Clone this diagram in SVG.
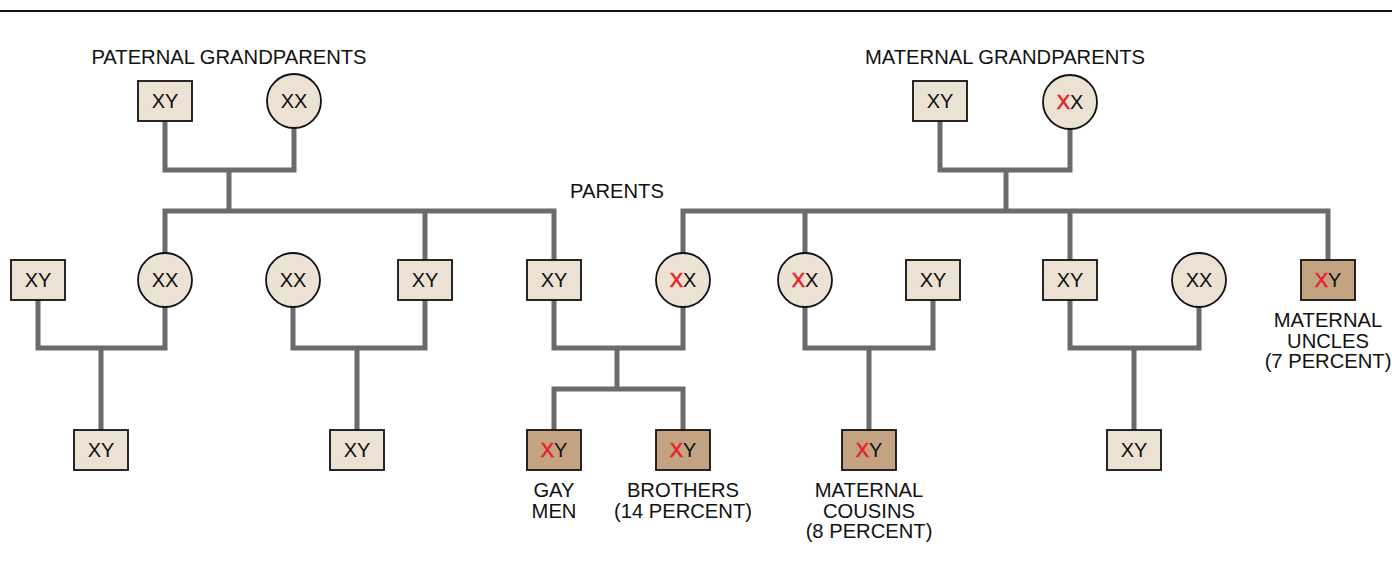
<svg xmlns="http://www.w3.org/2000/svg" width="1392" height="573" viewBox="0 0 1392 573">
<style>
.bg{fill:#ffffff}
.ln{fill:none;stroke:#6b6b6b;stroke-width:5;stroke-linejoin:miter;stroke-linecap:butt}
.nd{fill:#ebe2d3;stroke:#111;stroke-width:1.8}
.br{fill:#c4a383;stroke:#111;stroke-width:1.8}
.t{font-family:"Liberation Sans",Arial,sans-serif;font-size:20px;fill:#111;text-anchor:middle}
.lb{font-family:"Liberation Sans",Arial,sans-serif;font-size:20.2px;fill:#111;text-anchor:middle}
.r{fill:#e8232a;stroke:#e8232a;stroke-width:0.6}
</style>
<rect class="bg" x="0" y="0" width="1392" height="573"/>
<line x1="0" y1="11" x2="1392" y2="11" stroke="#111" stroke-width="2"/>
<g id="connectors">
<path class="ln" d="M165,121 V170 H294 V128 M229,170 V211"/>
<path class="ln" d="M165,253 V211 H554 V260 M425,211 V260"/>
<path class="ln" d="M940,121 V170 H1070 V129 M1006,170 V211"/>
<path class="ln" d="M683,253 V211 H1328 V260 M805,211 V253 M1070,211 V260"/>
<path class="ln" d="M38,300 V348 H165 V307 M101,348 V430"/>
<path class="ln" d="M293,307 V348 H425 V300 M357,348 V430"/>
<path class="ln" d="M554,300 V348 H683 V307 M617,348 V389 M554,430 V389 H683 V430"/>
<path class="ln" d="M805,307 V348 H933 V300 M869,348 V430"/>
<path class="ln" d="M1070,300 V348 H1199 V307 M1134,348 V430"/>
</g>
<g id="label-paternal"><text class="lb" x="229" y="64">PATERNAL GRANDPARENTS</text></g>
<g id="label-maternal"><text class="lb" x="1005" y="64">MATERNAL GRANDPARENTS</text></g>
<g id="label-parents"><text class="lb" x="617" y="198">PARENTS</text></g>
<g id="pgf"><rect class="nd" x="138" y="81" width="54" height="40"/><text class="t" x="165" y="108">XY</text></g>
<g id="pgm"><circle class="nd" cx="294" cy="101" r="27"/><text class="t" x="294" y="108">XX</text></g>
<g id="mgf"><rect class="nd" x="913" y="81" width="54" height="40"/><text class="t" x="940" y="108">XY</text></g>
<g id="mgm"><circle class="nd" cx="1070" cy="102" r="27"/><text class="t" x="1070" y="109"><tspan class="r">X</tspan>X</text></g>
<g id="p1"><rect class="nd" x="11" y="260" width="54" height="40"/><text class="t" x="38" y="287">XY</text></g>
<g id="p2"><circle class="nd" cx="165" cy="280" r="27"/><text class="t" x="165" y="287">XX</text></g>
<g id="p3"><circle class="nd" cx="293" cy="280" r="27"/><text class="t" x="293" y="287">XX</text></g>
<g id="p4"><rect class="nd" x="398" y="260" width="54" height="40"/><text class="t" x="425" y="287">XY</text></g>
<g id="father"><rect class="nd" x="527" y="260" width="54" height="40"/><text class="t" x="554" y="287">XY</text></g>
<g id="mother"><circle class="nd" cx="683" cy="280" r="27"/><text class="t" x="683" y="287"><tspan class="r">X</tspan>X</text></g>
<g id="aunt"><circle class="nd" cx="805" cy="280" r="27"/><text class="t" x="805" y="287"><tspan class="r">X</tspan>X</text></g>
<g id="p8"><rect class="nd" x="906" y="260" width="54" height="40"/><text class="t" x="933" y="287">XY</text></g>
<g id="p9"><rect class="nd" x="1043" y="260" width="54" height="40"/><text class="t" x="1070" y="287">XY</text></g>
<g id="p10"><circle class="nd" cx="1199" cy="280" r="27"/><text class="t" x="1199" y="287">XX</text></g>
<g id="uncle"><rect class="br" x="1301" y="260" width="54" height="40"/><text class="t" x="1328" y="287"><tspan class="r">X</tspan>Y</text>
<text class="lb" x="1328" y="327">MATERNAL</text><text class="lb" x="1328" y="347.5">UNCLES</text><text class="lb" x="1328" y="368">(7 PERCENT)</text></g>
<g id="c1"><rect class="nd" x="74" y="430" width="54" height="40"/><text class="t" x="101" y="457">XY</text></g>
<g id="c2"><rect class="nd" x="330" y="430" width="54" height="40"/><text class="t" x="357" y="457">XY</text></g>
<g id="gay"><rect class="br" x="527" y="430" width="54" height="40"/><text class="t" x="554" y="457"><tspan class="r">X</tspan>Y</text>
<text class="lb" x="554" y="497">GAY</text><text class="lb" x="554" y="517.5">MEN</text></g>
<g id="brother"><rect class="br" x="656" y="430" width="54" height="40"/><text class="t" x="683" y="457"><tspan class="r">X</tspan>Y</text>
<text class="lb" x="683" y="497">BROTHERS</text><text class="lb" x="683" y="517.5">(14 PERCENT)</text></g>
<g id="cousin"><rect class="br" x="842" y="430" width="54" height="40"/><text class="t" x="869" y="457"><tspan class="r">X</tspan>Y</text>
<text class="lb" x="869" y="497">MATERNAL</text><text class="lb" x="869" y="517.5">COUSINS</text><text class="lb" x="869" y="538">(8 PERCENT)</text></g>
<g id="c6"><rect class="nd" x="1107" y="430" width="54" height="40"/><text class="t" x="1134" y="457">XY</text></g>
</svg>
